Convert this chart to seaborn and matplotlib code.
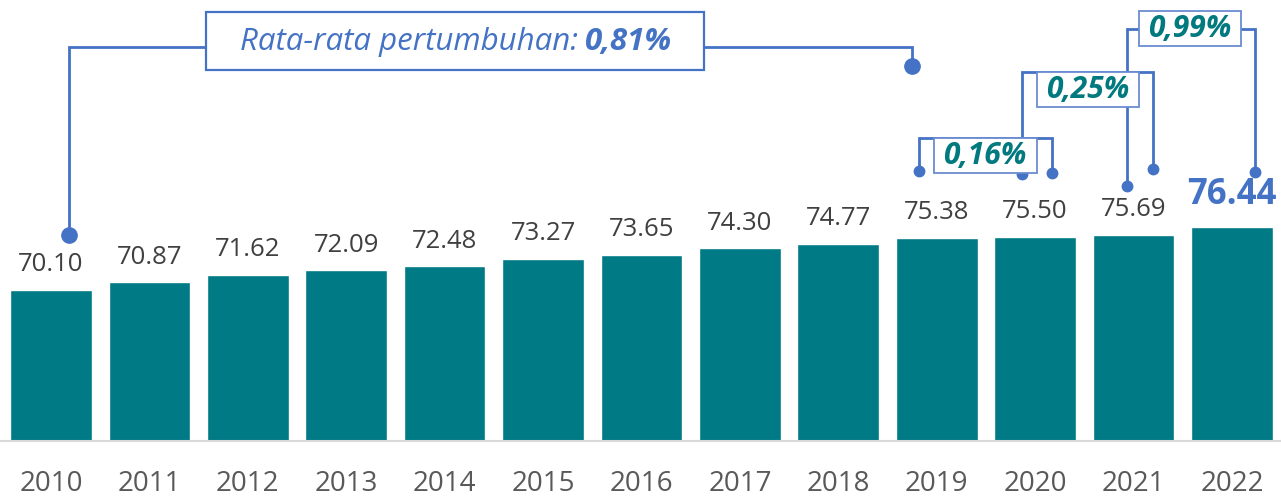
import matplotlib
matplotlib.use("Agg")
import matplotlib.pyplot as plt
import matplotlib.transforms as mtransforms
from matplotlib.patches import Rectangle
import seaborn as sns
import pandas as pd

# ---- data ----
years = ["2010", "2011", "2012", "2013", "2014", "2015", "2016",
         "2017", "2018", "2019", "2020", "2021", "2022"]
values = [70.10, 70.87, 71.62, 72.09, 72.48, 73.27, 73.65,
          74.30, 74.77, 75.38, 75.50, 75.69, 76.44]
avg_label_text = "Rata-rata pertumbuhan:"
avg_label_value = "0,81%"
growth_labels = ["0,16%", "0,25%", "0,99%"]

BAR = "#007A85"
BLUE = "#4472C4"
BOXBLUE = "#6A8CD0"
TEAL = "#00797F"
W, H = 1281, 499

sns.set_theme(style="white")
plt.rcParams["font.family"] = ["Open Sans", "DejaVu Sans"]

fig = plt.figure(figsize=(W / 100, H / 100), dpi=100)
ax = fig.add_axes([0, 58 / H, 1, 441 / H])

df = pd.DataFrame({"year": years, "value": values})
sns.barplot(data=df, x="year", y="value", color=BAR, width=0.83,
            saturation=1, ax=ax)

ax.set_xlim(-0.518, 12.498)
ax.set_ylim(54.83, 99.42)
ax.set_xlabel("")
ax.set_ylabel("")
ax.set_yticks([])
for s in ["top", "left", "right"]:
    ax.spines[s].set_visible(False)
ax.spines["bottom"].set_color("#D9D9D9")
ax.spines["bottom"].set_linewidth(1.5)
ax.tick_params(axis="x", length=0, pad=21, labelsize=20, labelcolor="#595959")

# value labels
bars = ax.containers[0]
labels = [f"{v:.2f}" for v in values[:-1]] + [""]
ax.bar_label(bars, labels=labels, padding=9, fontsize=18.5, color="#404040")
last = bars.patches[-1]
ax.annotate(f"{values[-1]:.2f}", (last.get_x() + last.get_width() / 2, values[-1]),
            xytext=(0, 10), textcoords="offset points", ha="center", va="bottom",
            fontsize=25, fontweight="bold", color=BLUE)

# ---- annotations in pixel coordinates (origin top-left) ----
T = mtransforms.Affine2D().scale(1 / W, -1 / H).translate(0, 1) + fig.transFigure


def poly(pts, lw=2.0):
    xs, ys = zip(*pts)
    fig.add_artist(plt.Line2D(xs, ys, transform=T, color=BLUE, lw=lw,
                              solid_joinstyle="miter", zorder=5))


def dot(x, y, size=9):
    fig.add_artist(plt.Line2D([x], [y], transform=T, marker="o", ms=size,
                              color=BLUE, lw=0, zorder=5))


def box(x0, y0, x1, y1, ec=BOXBLUE, lw=1.3):
    fig.add_artist(Rectangle((x0, y0), x1 - x0, y1 - y0, transform=T,
                             facecolor="white", edgecolor=ec, lw=lw, zorder=6))


# main bracket
poly([(69, 235), (69, 47), (206, 47)])
poly([(704, 47), (912, 47), (912, 66)])
dot(69, 235, 11)
dot(912, 66, 11)
box(206, 12, 704, 70, ec=BLUE, lw=1.6)
fig.text(578, 42, avg_label_text, transform=T, ha="right", va="center",
         fontsize=22.5, style="italic", color=BLUE, zorder=7)
fig.text(585, 42, avg_label_value, transform=T, ha="left", va="center",
         fontsize=22.5, style="italic", fontweight="bold", color=BLUE, zorder=7)

# 0,99% bracket
poly([(1127, 186), (1127, 29), (1255, 29), (1255, 172)])
dot(1127, 186, 7.5)
dot(1255, 172, 7.5)
box(1139, 11, 1241, 46)
fig.text(1190, 29, growth_labels[2], transform=T, ha="center", va="center",
         fontsize=21.5, style="italic", fontweight="bold", color=TEAL, zorder=7)

# 0,25% bracket
poly([(1022, 174), (1022, 72), (1153, 72), (1153, 169)])
dot(1022, 174, 7.5)
dot(1153, 169, 7.5)
box(1037, 72, 1139, 107)
fig.text(1088, 90, growth_labels[1], transform=T, ha="center", va="center",
         fontsize=21.5, style="italic", fontweight="bold", color=TEAL, zorder=7)

# 0,16% bracket
poly([(919, 171), (919, 138), (1052, 138), (1052, 173)])
dot(919, 171, 7.5)
dot(1052, 173, 7.5)
box(934, 138, 1037, 173)
fig.text(985, 156, growth_labels[0], transform=T, ha="center", va="center",
         fontsize=21.5, style="italic", fontweight="bold", color=TEAL, zorder=7)

fig.savefig("out.png", dpi=100)
